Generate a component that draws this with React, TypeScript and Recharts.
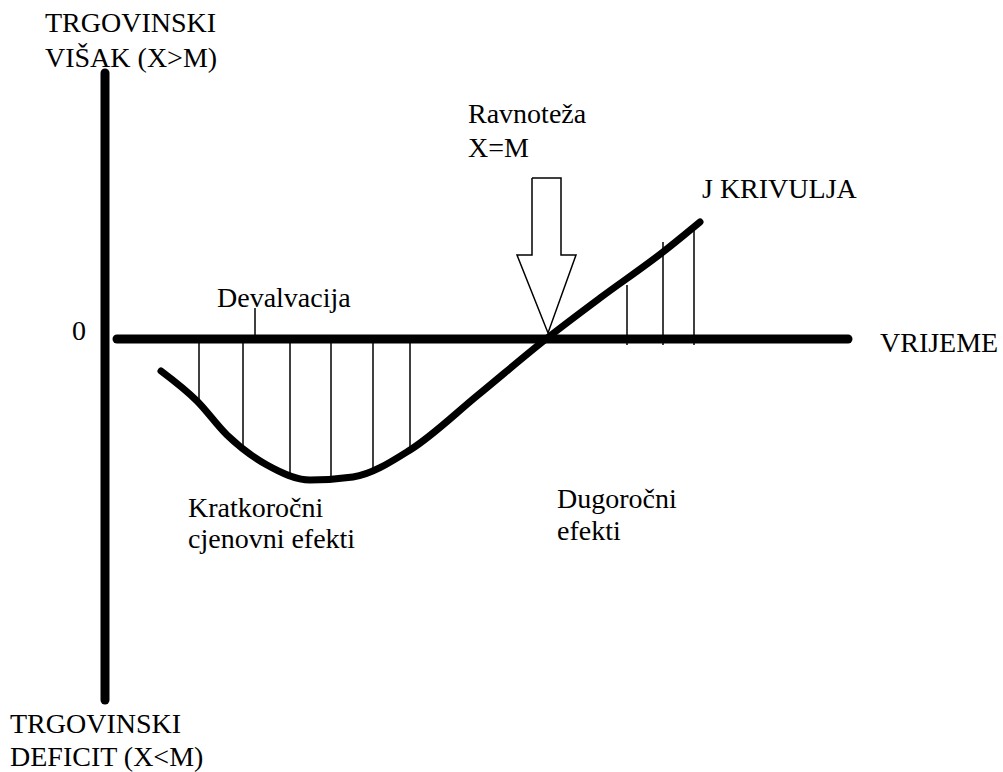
import React from 'react';
import { ComposedChart, Line, XAxis, YAxis, ReferenceLine } from 'recharts';

// --- Data (t = time units, v = trade balance units) ---
const jCurve = [
  { t: 5.6, v: -3.2 },
  { t: 9.2, v: -6.2 },
  { t: 12.2, v: -9.6 },
  { t: 16.2, v: -12.6 },
  { t: 20.5, v: -14.1 },
  { t: 24.8, v: -13.8 },
  { t: 30.5, v: -11.1 },
  { t: 37.3, v: -5.6 },
  { t: 44.1, v: 0 },
  { t: 49.5, v: 4.1 },
  { t: 55.8, v: 8.7 },
  { t: 59.5, v: 11.7 },
];

// vertical hatch lines between the time axis and the curve
const hatchLines = [
  { t: 9.4, from: 0, to: -6.3 },
  { t: 13.8, from: 0, to: -11.0 },
  { t: 18.5, from: 0, to: -13.5 },
  { t: 22.6, from: 0, to: -13.8 },
  { t: 26.8, from: 0, to: -13.2 },
  { t: 30.5, from: 0, to: -10.9 },
  { t: 52.2, from: -0.6, to: 5.4 },
  { t: 55.8, from: -0.6, to: 9.7 },
  { t: 58.9, from: -0.6, to: 11.0 },
];

// "Ravnoteža X=M" arrow outline
const arrowOutline = [
  { t: 42.7, v: 16.1 },
  { t: 45.6, v: 16.1 },
  { t: 45.6, v: 8.4 },
  { t: 47.1, v: 8.4 },
  { t: 44.3, v: 0.6 },
  { t: 41.2, v: 8.4 },
  { t: 42.7, v: 8.4 },
  { t: 42.7, v: 16.1 },
];

const devalvacijaTick = { t: 15, top: 3.1 };
const timeAxis = { start: 1.2, end: 74.3 };
const balanceAxis = { top: 26.6, bottom: -36.1 };

const labels = [
  { text: 'TRGOVINSKI', x: 45, y: 32 },
  { text: 'VIŠAK (X>M)', x: 45, y: 67 },
  { text: 'TRGOVINSKI', x: 10, y: 733 },
  { text: 'DEFICIT (X<M)', x: 10, y: 766 },
  { text: '0', x: 72, y: 340 },
  { text: 'Devalvacija', x: 217, y: 307 },
  { text: 'Ravnoteža', x: 468, y: 123 },
  { text: 'X=M', x: 468, y: 157 },
  { text: 'J KRIVULJA', x: 702, y: 198 },
  { text: 'VRIJEME', x: 880, y: 352 },
  { text: 'Kratkoročni', x: 188, y: 517 },
  { text: 'cjenovni efekti', x: 188, y: 548 },
  { text: 'Dugoročni', x: 557, y: 508 },
  { text: 'efekti', x: 557, y: 540 },
];

const W = 1003;
const H = 772;

const App: React.FC = () => {
  return (
    <div style={{ position: 'absolute', left: 0, top: 0, width: W, height: H, background: '#fff' }}>
      <ComposedChart width={W} height={H} data={jCurve} margin={{ top: 0, right: 0, bottom: 0, left: 0 }}>
        <XAxis type="number" dataKey="t" domain={[-10.5, 89.8]} hide allowDataOverflow />
        <YAxis type="number" dataKey="v" domain={[-43.3, 33.9]} hide allowDataOverflow />

        {/* axes */}
        <ReferenceLine
          segment={[{ x: 0, y: balanceAxis.top }, { x: 0, y: balanceAxis.bottom }]}
          stroke="#000"
          strokeWidth={9}
          strokeLinecap="round"
          ifOverflow="visible"
        />
        <ReferenceLine
          segment={[{ x: timeAxis.start, y: 0 }, { x: timeAxis.end, y: 0 }]}
          stroke="#000"
          strokeWidth={9}
          strokeLinecap="round"
          ifOverflow="visible"
        />

        {/* Devalvacija marker */}
        <ReferenceLine
          segment={[{ x: devalvacijaTick.t, y: 0 }, { x: devalvacijaTick.t, y: devalvacijaTick.top }]}
          stroke="#000"
          strokeWidth={1.5}
          ifOverflow="visible"
        />

        {hatchLines.map((h, i) => (
          <ReferenceLine
            key={`hatch-${i}`}
            segment={[{ x: h.t, y: h.from }, { x: h.t, y: h.to }]}
            stroke="#000"
            strokeWidth={1.5}
            ifOverflow="visible"
          />
        ))}

        <Line
          data={arrowOutline}
          dataKey="v"
          type="linear"
          stroke="#000"
          strokeWidth={1.5}
          strokeLinejoin="miter"
          dot={false}
          activeDot={false}
          isAnimationActive={false}
        />

        <Line
          dataKey="v"
          type="monotone"
          stroke="#000"
          strokeWidth={7}
          strokeLinecap="round"
          dot={false}
          activeDot={false}
          isAnimationActive={false}
        />
      </ComposedChart>

      <svg width={W} height={H} style={{ position: 'absolute', left: 0, top: 0, pointerEvents: 'none' }}>
        {labels.map((l, i) => (
          <text key={i} x={l.x} y={l.y} fontFamily="Liberation Serif, Times New Roman, serif" fontSize={28} fill="#000">
            {l.text}
          </text>
        ))}
      </svg>
    </div>
  );
};

export default App;
